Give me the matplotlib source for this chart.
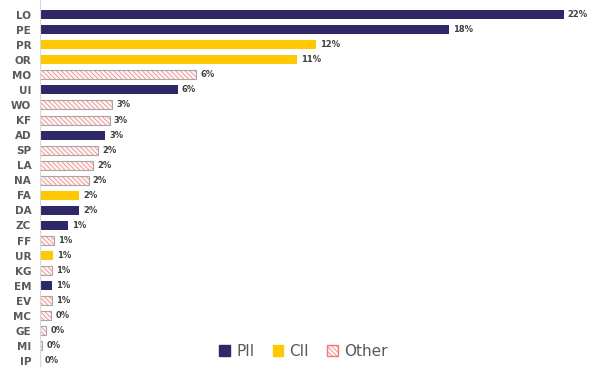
import numpy as np
import matplotlib.pyplot as plt
from matplotlib.patches import Patch

plt.rcParams['hatch.linewidth'] = 0.5

# data (top to bottom)
cats = ['LO', 'PE', 'PR', 'OR', 'MO', 'UI', 'WO', 'KF', 'AD', 'SP', 'LA', 'NA',
        'FA', 'DA', 'ZC', 'FF', 'UR', 'KG', 'EM', 'EV', 'MC', 'GE', 'MI', 'IP']
values = [22.4, 17.5, 11.8, 11.0, 6.7, 5.9, 3.1, 3.0, 2.8, 2.5, 2.3, 2.1,
          1.7, 1.7, 1.2, 0.62, 0.58, 0.53, 0.53, 0.53, 0.49, 0.28, 0.11, 0.02]
labels = ['22%', '18%', '12%', '11%', '6%', '6%', '3%', '3%', '3%', '2%', '2%', '2%',
          '2%', '2%', '1%', '1%', '1%', '1%', '1%', '1%', '0%', '0%', '0%', '0%']
groups = ['PII', 'PII', 'CII', 'CII', 'Other', 'PII', 'Other', 'Other', 'PII', 'Other', 'Other', 'Other',
          'CII', 'PII', 'PII', 'Other', 'CII', 'Other', 'PII', 'Other', 'Other', 'Other', 'Other', 'Other']

navy = '#2E2868'
gold = '#FFC800'
hatch_red = '#F07878'
edge_gray = '#A6A6A6'
hatch = '\\\\\\\\\\\\\\'

fig = plt.figure(figsize=(5.89, 3.67), dpi=100)
ax = fig.add_axes([39.5 / 589, 0, 549.5 / 589, 1])

n = len(cats)
y = np.arange(n)[::-1]
h = 0.6

for yi, v, g in zip(y, values, groups):
    if g == 'PII':
        ax.barh(yi, v, height=h, color=navy, linewidth=0)
    elif g == 'CII':
        ax.barh(yi, v, height=h, color=gold, linewidth=0)
    else:
        ax.barh(yi, v, height=h, facecolor='#FFF4F4', edgecolor=hatch_red,
                hatch=hatch, linewidth=0)
        ax.barh(yi, v, height=h, facecolor='none', edgecolor=edge_gray, linewidth=0.8)

for yi, v, lab in zip(y, values, labels):
    ax.text(v + 0.18, yi, lab, va='center', ha='left', fontsize=6,
            fontweight='bold', color='#404040')

ax.set_xlim(0, 549.5 / 23.4)
ax.set_ylim(-0.4, 23.97)
ax.set_yticks(y)
ax.set_yticklabels(cats, fontsize=7.5, fontweight='bold', color='#595959')
ax.tick_params(axis='y', length=0, pad=6)
ax.set_xticks([])
for s in ['top', 'right', 'bottom']:
    ax.spines[s].set_visible(False)
ax.spines['left'].set_color('#D9D9D9')
ax.spines['left'].set_linewidth(0.8)

handles = [Patch(facecolor=navy, edgecolor=navy),
           Patch(facecolor=gold, edgecolor=gold),
           Patch(facecolor='#FFF4F4', edgecolor=hatch_red, hatch=hatch)]
ax.legend(handles, ['PII', 'CII', 'Other'], loc='center', ncol=3,
          bbox_to_anchor=(264.0 / 549.5, 16 / 367), frameon=False,
          fontsize=11, labelcolor='#595959', handlelength=0.7, handleheight=0.7,
          handletextpad=0.4, columnspacing=1.2)

fig.savefig('out.png', dpi=100)
